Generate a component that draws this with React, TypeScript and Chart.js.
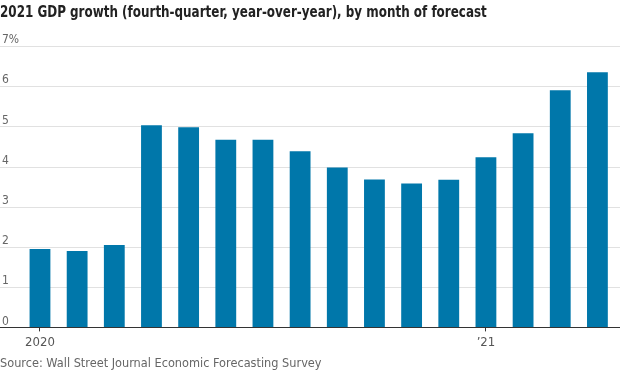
import React, { useEffect, useRef } from "react";
import { Chart, registerables } from "chart.js";

Chart.register(...registerables);

const TITLE = "2021 GDP growth (fourth-quarter, year-over-year), by month of forecast";
const SOURCE = "Source: Wall Street Journal Economic Forecasting Survey";

const months = [
  "Jan 2020", "Feb 2020", "Mar 2020", "Apr 2020", "May 2020", "Jun 2020",
  "Jul 2020", "Aug 2020", "Sep 2020", "Oct 2020", "Nov 2020", "Dec 2020",
  "Jan 2021", "Feb 2021", "Mar 2021", "Apr 2021",
];
const tickLabels = ["2020", "", "", "", "", "", "", "", "", "", "", "", "\u201921", "", "", ""];
const growth = [1.95, 1.9, 2.05, 5.03, 4.98, 4.67, 4.67, 4.38, 3.98, 3.68, 3.58, 3.67, 4.23, 4.83, 5.9, 6.35];
const yTicks = [0, 1, 2, 3, 4, 5, 6, 7];

const FONT = "'DejaVu Sans Condensed', 'Liberation Sans Narrow', 'Roboto', sans-serif";
const BAR = "#0077aa";

const gridPlugin = {
  id: "fullGrid",
  beforeDatasetsDraw(chart: any) {
    const { ctx, width } = chart;
    const y = chart.scales.y;
    ctx.save();
    ctx.lineWidth = 1;
    ctx.strokeStyle = "#e1e1e1";
    yTicks.forEach((v) => {
      if (v === 0) return;
      const py = Math.round(y.getPixelForValue(v)) + 0.5;
      ctx.beginPath();
      ctx.moveTo(0, py);
      ctx.lineTo(width, py);
      ctx.stroke();
    });
    ctx.restore();
  },
  afterDatasetsDraw(chart: any) {
    const { ctx, width } = chart;
    const y = chart.scales.y;
    const py = Math.round(y.getPixelForValue(0)) + 0.5;
    ctx.save();
    ctx.lineWidth = 1;
    ctx.strokeStyle = "#333333";
    ctx.beginPath();
    ctx.moveTo(0, py);
    ctx.lineTo(width, py);
    ctx.stroke();
    ctx.restore();
  },
};

export default function App() {
  const ref = useRef<HTMLCanvasElement | null>(null);

  useEffect(() => {
    if (!ref.current) return;
    const chart = new Chart(ref.current, {
      type: "bar",
      data: {
        labels: months,
        datasets: [
          {
            data: growth,
            backgroundColor: BAR,
            borderWidth: 0,
            barPercentage: 0.56,
            categoryPercentage: 1,
          },
        ],
      },
      options: {
        animation: false,
        responsive: true,
        maintainAspectRatio: false,
        layout: { padding: { top: 46, left: 2, right: 4, bottom: 22 } },
        plugins: { legend: { display: false }, tooltip: { enabled: false }, title: { display: false } },
        scales: {
          x: {
            offset: true,
            grid: {
              display: true,
              offset: false,
              drawOnChartArea: false,
              drawTicks: true,
              tickLength: 4,
              color: (c: any) => (tickLabels[c.index] ? "#333333" : "rgba(0,0,0,0)"),
            },
            border: { display: false },
            ticks: {
              autoSkip: false,
              maxRotation: 0,
              padding: 3,
              color: "#555555",
              font: { family: FONT, size: 13 },
              callback: (_v: any, i: number) => tickLabels[i],
            },
          },
          y: {
            min: 0,
            max: 7,
            afterFit: (s: any) => {
              s.width = 19.4;
            },
            grid: { display: false },
            border: { display: false },
            ticks: {
              stepSize: 1,
              crossAlign: "far",
              labelOffset: -6,
              padding: 0,
              color: "#666666",
              font: { family: FONT, size: 12 },
              callback: (v: any) => (v === 7 ? "7%" : String(v)),
            },
          },
        },
      },
      plugins: [gridPlugin],
    });
    return () => chart.destroy();
  }, []);

  return (
    <div style={{ position: "absolute", left: 0, top: 0, width: 620, height: 375, background: "#fff", overflow: "hidden" }}>
      <div style={{ position: "absolute", left: 0, top: 0, width: 620, height: 375 }}>
        <canvas ref={ref} />
      </div>
      <div
        style={{
          position: "absolute",
          left: 0,
          top: 0,
          lineHeight: "24px",
          fontFamily: FONT,
          fontWeight: "bold",
          fontSize: 16,
          color: "#222",
          whiteSpace: "nowrap",
          transform: "scaleX(0.83)",
          transformOrigin: "left center",
        }}
      >
        {TITLE}
      </div>
      <div
        style={{
          position: "absolute",
          left: 0,
          top: 354,
          lineHeight: "18px",
          fontFamily: FONT,
          fontSize: 13,
          color: "#666",
          whiteSpace: "nowrap",
          transform: "scaleX(0.97)",
          transformOrigin: "left center",
        }}
      >
        {SOURCE}
      </div>
    </div>
  );
}
